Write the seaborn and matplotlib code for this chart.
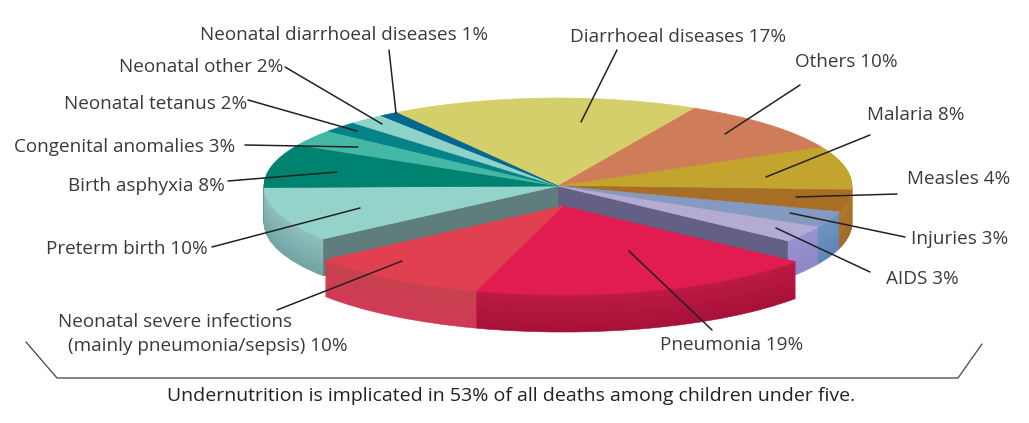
import numpy as np
import matplotlib
matplotlib.use("Agg")
import matplotlib.pyplot as plt
import seaborn as sns

causes = ["Diarrhoeal diseases", "Others", "Malaria", "Measles", "Injuries", "AIDS", "Pneumonia",
          "Neonatal severe infections", "Preterm birth", "Birth asphyxia", "Congenital anomalies",
          "Neonatal tetanus", "Neonatal other", "Neonatal diarrhoeal diseases"]
shares = [17, 10, 8, 4, 3, 3, 19, 10, 10, 8, 3, 2, 2, 1]
pulled_out = ["Pneumonia", "Neonatal severe infections"]
top_cols = ["#d4cf6a", "#cf7d58", "#c2a42e", "#a96e26", "#849ac0", "#b3abd2", "#e01c50",
            "#e0404f", "#94d3c9", "#008270", "#45b8a5", "#068289", "#8ed2c8", "#04678f"]
wall_top = ["#b8b45c", "#b06a4a", "#a68c28", "#b0782e", "#6f94c4", "#9a92d0", "#bb1a44",
            "#c8424f", "#8fbfbc", "#006f60", "#3a9c8c", "#056f75", "#79b3aa", "#03577a"]
wall_bot = ["#b8b45c", "#b06a4a", "#a68c28", "#a5682a", "#5f86b8", "#8f88c6", "#a81038",
            "#d03a55", "#74a3a4", "#006f60", "#3a9c8c", "#056f75", "#79b3aa", "#03577a"]
footer = "Undernutrition is implicated in 53% of all deaths among children under five."

W, H = 1029, 423
cx, cy, rx, ry = 558, 186, 294, 88
start = 123.4
depth = 37
shift = (5 / rx, -20 / ry)

sns.set_theme(style="white")
plt.rcParams["font.family"] = ["Open Sans", "DejaVu Sans"]
fig = plt.figure(figsize=(W / 100, H / 100), dpi=100)
ax = fig.add_axes([0, 0, 1, 1])


def draw_pie(colors, center, radius=1):
    wedges, _ = ax.pie(shares, colors=colors, startangle=start, counterclock=False, radius=radius, center=center,
                       wedgeprops={"linewidth": 0.4})
    for w in wedges:
        w.set_edgecolor(w.get_facecolor())


def layer_cols(step, keep):
    cols = []
    for name, a, b in zip(causes, wall_top, wall_bot):
        if keep(name):
            cols.append(sns.blend_palette([a, b], depth)[step])
        else:
            cols.append("none")
    return cols


def rim(idx):
    ang = np.radians(start - 3.6 * sum(shares[:idx]))
    return np.cos(ang), np.sin(ang)


stay = lambda n: n not in pulled_out
out = lambda n: n in pulled_out

# body of the pie, from the bottom up
for i in range(depth - 1, -1, -1):
    draw_pie(layer_cols(i, stay), (0, -(i + 1) / ry))

# faces of the cut where the two slices come out
d = depth / ry
for idx, col in [(causes.index("Pneumonia"), "#635f85"), (causes.index("Preterm birth"), "#5f7d7c")]:
    x, y = rim(idx)
    ax.fill([0, x, x, 0], [0, y, y - d, -d], color=col, lw=0)

draw_pie([c if stay(n) else "none" for n, c in zip(causes, top_cols)], (0, 0))

# the pulled out slices, a little larger as in the drawing
for i in range(depth - 1, -1, -1):
    draw_pie(layer_cols(i, out), (shift[0], shift[1] - (i + 1) / ry), 1.012)
draw_pie([c if out(n) else "none" for n, c in zip(causes, top_cols)], shift, 1.012)

ax.set_aspect("auto")
ax.set_xlim(-cx / rx, (W - cx) / rx)
ax.set_ylim((cy - H) / ry, cy / ry)
ax.axis("off")

# labels and leader lines, in pixels of the picture
ov = fig.add_axes([0, 0, 1, 1])
ov.set_xlim(0, W)
ov.set_ylim(H, 0)
ov.axis("off")
ov.patch.set_alpha(0)

fs = 13.6
label_pos = {
    "Diarrhoeal diseases": (570, 37), "Others": (795, 62), "Malaria": (867, 115), "Measles": (907, 179),
    "Injuries": (911, 239), "AIDS": (886, 279), "Pneumonia": (660, 345), "Preterm birth": (46, 249),
    "Birth asphyxia": (68, 186), "Congenital anomalies": (14, 147), "Neonatal tetanus": (64, 104),
    "Neonatal other": (119, 67), "Neonatal diarrhoeal diseases": (200, 35),
}
for name, val in zip(causes, shares):
    if name in label_pos:
        x, y = label_pos[name]
        ov.text(x, y, f"{name} {val}%", fontsize=fs, color="#3a3a3a", ha="left", va="center")
ov.text(58, 322, "Neonatal severe infections", fontsize=fs, color="#3a3a3a", va="center")
ov.text(68, 346, f"(mainly pneumonia/sepsis) {shares[7]}%", fontsize=fs, color="#3a3a3a", va="center")

leaders = [((617, 50), (581, 122)), ((800, 85), (725, 134)), ((870, 135), (766, 177)), ((897, 194), (796, 197)),
           ((905, 237), (790, 213)), ((870, 272), (776, 228)), ((712, 330), (629, 251)), ((277, 310), (402, 261)),
           ((212, 247), (360, 208)), ((228, 181), (337, 172)), ((245, 145), (358, 147)), ((248, 100), (357, 131)),
           ((285, 67), (382, 124)), ((389, 50), (396, 113))]
for a, b in leaders:
    ov.plot([a[0], b[0]], [a[1], b[1]], color="#222222", lw=1.1)

ov.plot([26, 57, 958, 982], [342, 378, 378, 344], color="#444444", lw=0.9)
ov.text(511, 396, footer, fontsize=14, color="#222222", ha="center", va="center")

fig.savefig("out.png", dpi=100, facecolor="white")
